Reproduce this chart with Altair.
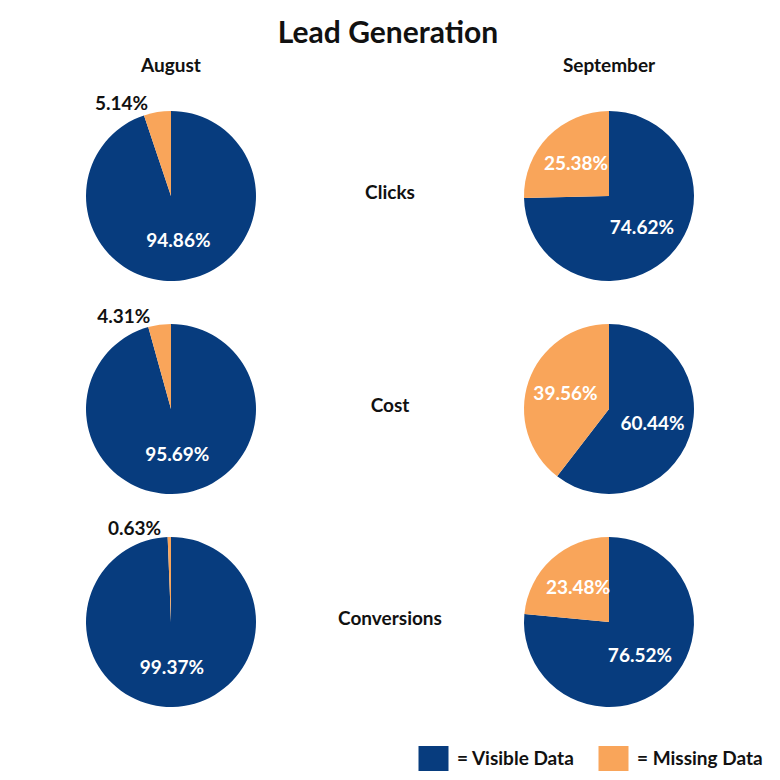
import altair as alt
import pandas as pd

months = ["August", "September"]
metrics = ["Clicks", "Cost", "Conversions"]
statuses = ["Visible Data", "Missing Data"]
august_visible = [94.86, 95.69, 99.37]
august_missing = [5.14, 4.31, 0.63]
september_visible = [74.62, 60.44, 76.52]
september_missing = [25.38, 39.56, 23.48]

BLUE = "#073c7e"
ORANGE = "#f9a55a"
INK = "#111111"
FONT = "Lato"

rows = []
for month, vis, mis in [("August", august_visible, august_missing),
                        ("September", september_visible, september_missing)]:
    for i, m in enumerate(metrics):
        rows.append(dict(month=month, metric=m, status="Visible Data", order=0, value=vis[i]))
        rows.append(dict(month=month, metric=m, status="Missing Data", order=1, value=mis[i]))
df = pd.DataFrame(rows)
df["label"] = df["value"].map(lambda v: f"{v:.2f}%")

legend = alt.Legend(
    title=None, orient="none", legendX=350, legendY=655, direction="horizontal",
    symbolType="M-1.2,-1H1.2V1H-1.2Z", symbolSize=625, symbolStrokeWidth=0,
    symbolOpacity=1, labelFont=FONT, labelFontSize=19, labelFontWeight="bold",
    labelColor=INK, labelOffset=11, columnPadding=23, padding=0,
    labelExpr="'= ' + datum.label",
)
color = alt.Color("status:N", scale=alt.Scale(domain=statuses, range=[BLUE, ORANGE]),
                  legend=legend)
theta_scale = alt.Scale(domain=[0, 100])


def pie(month, metric, title=None):
    base = alt.Chart(df).transform_filter(
        (alt.datum.month == month) & (alt.datum.metric == metric))
    arcs = base.mark_arc(outerRadius=85).encode(
        theta=alt.Theta("value:Q", stack=True, scale=theta_scale),
        color=color,
        order=alt.Order("order:Q"),
    )
    stacked = base.transform_window(
        cum="sum(value)", sort=[alt.SortField("order")], frame=[None, 0]
    ).transform_calculate(mid="datum.cum - datum.value / 2")
    inside = stacked.transform_filter("datum.value >= 10").mark_text(
        radius=46, fontSize=19, fontWeight="bold", color="white", font=FONT
    ).encode(theta=alt.Theta("mid:Q", stack=None, scale=theta_scale), text="label:N")
    outside = stacked.transform_filter("datum.value < 10").mark_text(
        radius=93, align="right", fontSize=19, fontWeight="bold", color=INK, font=FONT,
        dx=-8
    ).encode(theta=alt.Theta("mid:Q", stack=None, scale=theta_scale), text="label:N")
    ch = alt.layer(arcs, inside, outside).properties(width=200, height=210)
    if title is not None:
        ch = ch.properties(title=alt.Title(title, fontSize=19, font=FONT, fontWeight="bold",
                                           color=INK, offset=15))
    return ch


def row_label(metric, title=None):
    ch = alt.Chart(pd.DataFrame({"metric": [metric]})).mark_text(
        fontSize=19, fontWeight="bold", font=FONT, color=INK, dy=-3
    ).encode(text="metric:N").properties(width=218, height=210)
    if title is not None:
        ch = ch.properties(title=alt.Title(title, fontSize=19, font=FONT, fontWeight="bold",
                                           color=INK, offset=15))
    return ch


row_charts = []
for i, m in enumerate(metrics):
    first = i == 0
    r = alt.hconcat(
        pie("August", m, "August" if first else None),
        row_label(m, " " if first else None),
        pie("September", m, "September" if first else None),
        spacing=10,
    ).resolve_scale(color="shared")
    row_charts.append(r)

chart = alt.vconcat(*row_charts, spacing=3).resolve_scale(color="shared").properties(
    title=alt.Title("Lead Generation", fontSize=30, font=FONT, fontWeight="bold",
                    color=INK, anchor="middle", frame="bounds", dx=-29, offset=8),
    padding={"left": 63, "top": 11, "right": 5, "bottom": 5},
).configure_view(stroke=None)

chart.save("out.html", embed_options={"renderer": "svg", "actions": False})
